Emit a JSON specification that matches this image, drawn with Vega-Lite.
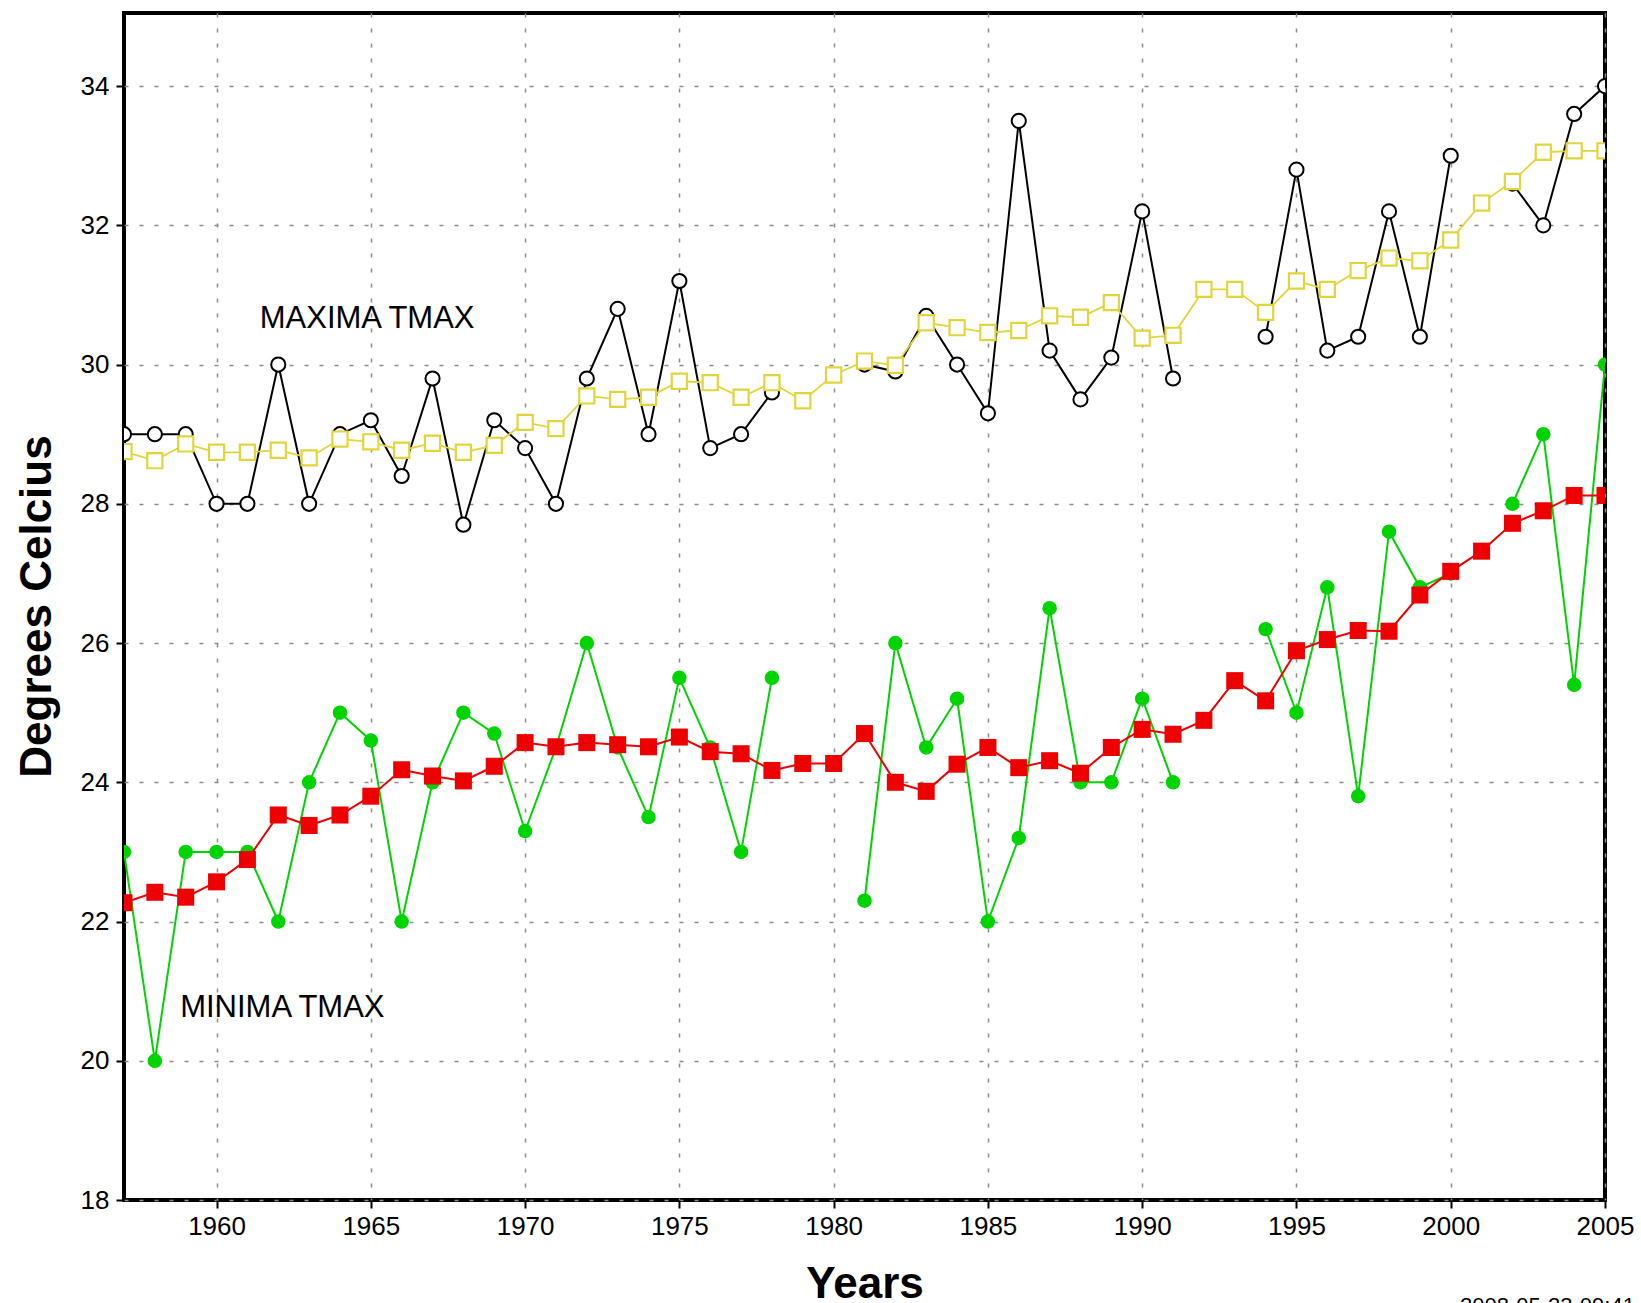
{
  "$schema": "https://vega.github.io/schema/vega-lite/v6.json",
  "width": 1481,
  "height": 1187,
  "autosize": {"type": "none"},
  "padding": {"left": 124, "top": 13, "right": 36, "bottom": 103},
  "background": "white",
  "config": {
    "view": {"stroke": "black", "strokeWidth": 4},
    "font": "Liberation Sans"
  },
  "title": {
    "text": "2008-05-23-09:41",
    "orient": "bottom",
    "anchor": "start",
    "frame": "group",
    "dx": 1336,
    "offset": -10,
    "fontSize": 22,
    "fontWeight": "normal",
    "font": "Liberation Sans",
    "color": "black"
  },
  "data": {
    "values": [
      {"year": 1957, "maxima": 29.0, "maxima_trend": 28.75, "minima": 23.0, "minima_trend": 22.27},
      {"year": 1958, "maxima": 29.0, "maxima_trend": 28.62, "minima": 20.0, "minima_trend": 22.42},
      {"year": 1959, "maxima": 29.0, "maxima_trend": 28.86, "minima": 23.0, "minima_trend": 22.35},
      {"year": 1960, "maxima": 28.0, "maxima_trend": 28.74, "minima": 23.0, "minima_trend": 22.57},
      {"year": 1961, "maxima": 28.0, "maxima_trend": 28.74, "minima": 23.0, "minima_trend": 22.89},
      {"year": 1962, "maxima": 30.0, "maxima_trend": 28.77, "minima": 22.0, "minima_trend": 23.53},
      {"year": 1963, "maxima": 28.0, "maxima_trend": 28.66, "minima": 24.0, "minima_trend": 23.38},
      {"year": 1964, "maxima": 29.0, "maxima_trend": 28.93, "minima": 25.0, "minima_trend": 23.53},
      {"year": 1965, "maxima": 29.2, "maxima_trend": 28.89, "minima": 24.6, "minima_trend": 23.80},
      {"year": 1966, "maxima": 28.4, "maxima_trend": 28.77, "minima": 22.0, "minima_trend": 24.18},
      {"year": 1967, "maxima": 29.8, "maxima_trend": 28.87, "minima": 24.0, "minima_trend": 24.09},
      {"year": 1968, "maxima": 27.7, "maxima_trend": 28.74, "minima": 25.0, "minima_trend": 24.02},
      {"year": 1969, "maxima": 29.2, "maxima_trend": 28.84, "minima": 24.7, "minima_trend": 24.23},
      {"year": 1970, "maxima": 28.8, "maxima_trend": 29.17, "minima": 23.3, "minima_trend": 24.57},
      {"year": 1971, "maxima": 28.0, "maxima_trend": 29.08, "minima": 24.5, "minima_trend": 24.51},
      {"year": 1972, "maxima": 29.8, "maxima_trend": 29.55, "minima": 26.0, "minima_trend": 24.57},
      {"year": 1973, "maxima": 30.8, "maxima_trend": 29.50, "minima": 24.5, "minima_trend": 24.54},
      {"year": 1974, "maxima": 29.0, "maxima_trend": 29.53, "minima": 23.5, "minima_trend": 24.51},
      {"year": 1975, "maxima": 31.2, "maxima_trend": 29.76, "minima": 25.5, "minima_trend": 24.65},
      {"year": 1976, "maxima": 28.8, "maxima_trend": 29.74, "minima": 24.5, "minima_trend": 24.44},
      {"year": 1977, "maxima": 29.0, "maxima_trend": 29.53, "minima": 23.0, "minima_trend": 24.41},
      {"year": 1978, "maxima": 29.6, "maxima_trend": 29.74, "minima": 25.5, "minima_trend": 24.17},
      {"year": 1979, "maxima": null, "maxima_trend": 29.48, "minima": null, "minima_trend": 24.27},
      {"year": 1980, "maxima": null, "maxima_trend": 29.85, "minima": null, "minima_trend": 24.27},
      {"year": 1981, "maxima": 30.0, "maxima_trend": 30.05, "minima": 22.3, "minima_trend": 24.70},
      {"year": 1982, "maxima": 29.9, "maxima_trend": 29.99, "minima": 26.0, "minima_trend": 24.00},
      {"year": 1983, "maxima": 30.7, "maxima_trend": 30.60, "minima": 24.5, "minima_trend": 23.87},
      {"year": 1984, "maxima": 30.0, "maxima_trend": 30.53, "minima": 25.2, "minima_trend": 24.26},
      {"year": 1985, "maxima": 29.3, "maxima_trend": 30.46, "minima": 22.0, "minima_trend": 24.50},
      {"year": 1986, "maxima": 33.5, "maxima_trend": 30.49, "minima": 23.2, "minima_trend": 24.21},
      {"year": 1987, "maxima": 30.2, "maxima_trend": 30.70, "minima": 26.5, "minima_trend": 24.31},
      {"year": 1988, "maxima": 29.5, "maxima_trend": 30.68, "minima": 24.0, "minima_trend": 24.13},
      {"year": 1989, "maxima": 30.1, "maxima_trend": 30.89, "minima": 24.0, "minima_trend": 24.50},
      {"year": 1990, "maxima": 32.2, "maxima_trend": 30.38, "minima": 25.2, "minima_trend": 24.76},
      {"year": 1991, "maxima": 29.8, "maxima_trend": 30.42, "minima": 24.0, "minima_trend": 24.69},
      {"year": 1992, "maxima": null, "maxima_trend": 31.08, "minima": null, "minima_trend": 24.89},
      {"year": 1993, "maxima": null, "maxima_trend": 31.08, "minima": null, "minima_trend": 25.46},
      {"year": 1994, "maxima": 30.4, "maxima_trend": 30.75, "minima": 26.2, "minima_trend": 25.17},
      {"year": 1995, "maxima": 32.8, "maxima_trend": 31.20, "minima": 25.0, "minima_trend": 25.89},
      {"year": 1996, "maxima": 30.2, "maxima_trend": 31.08, "minima": 26.8, "minima_trend": 26.05},
      {"year": 1997, "maxima": 30.4, "maxima_trend": 31.35, "minima": 23.8, "minima_trend": 26.18},
      {"year": 1998, "maxima": 32.2, "maxima_trend": 31.53, "minima": 27.6, "minima_trend": 26.17},
      {"year": 1999, "maxima": 30.4, "maxima_trend": 31.49, "minima": 26.8, "minima_trend": 26.69},
      {"year": 2000, "maxima": 33.0, "maxima_trend": 31.79, "minima": 27.0, "minima_trend": 27.03},
      {"year": 2001, "maxima": null, "maxima_trend": 32.32, "minima": null, "minima_trend": 27.32},
      {"year": 2002, "maxima": 32.6, "maxima_trend": 32.63, "minima": 28.0, "minima_trend": 27.72},
      {"year": 2003, "maxima": 32.0, "maxima_trend": 33.05, "minima": 29.0, "minima_trend": 27.90},
      {"year": 2004, "maxima": 33.6, "maxima_trend": 33.07, "minima": 25.4, "minima_trend": 28.12},
      {"year": 2005, "maxima": 34.0, "maxima_trend": 33.07, "minima": 30.0, "minima_trend": 28.12}
    ]
  },
  "transform": [
    {"fold": ["maxima", "maxima_trend", "minima", "minima_trend"], "as": ["series", "value"]}
  ],
  "encoding": {
    "x": {
      "field": "year",
      "type": "quantitative",
      "scale": {"domain": [1957, 2005], "nice": false, "zero": false},
      "axis": {
        "values": [1960, 1965, 1970, 1975, 1980, 1985, 1990, 1995, 2000, 2005],
        "format": "d",
        "title": "Years",
        "grid": true,
        "gridColor": "#8c8c8c",
        "gridDash": [4, 11],
        "gridWidth": 1.5,
        "domain": false,
        "tickSize": 8,
        "tickColor": "black",
        "tickWidth": 2,
        "labelFont": "Liberation Sans",
        "labelFontSize": 26,
        "labelColor": "black",
        "labelPadding": 5,
        "labelFlush": false,
        "labelOverlap": false,
        "titleFont": "Liberation Sans",
        "titleFontSize": 44,
        "titleFontWeight": "bold",
        "titleColor": "black",
        "titleBaseline": "alphabetic",
        "titleY": 97
      }
    },
    "y": {
      "field": "value",
      "type": "quantitative",
      "scale": {"domain": [18, 35.05], "nice": false, "zero": false},
      "axis": {
        "values": [18, 20, 22, 24, 26, 28, 30, 32, 34],
        "title": "Degrees Celcius",
        "grid": true,
        "gridColor": "#8c8c8c",
        "gridDash": [4, 11],
        "gridWidth": 1.5,
        "domain": false,
        "tickSize": 8,
        "tickColor": "black",
        "tickWidth": 2,
        "labelFont": "Liberation Sans",
        "labelFontSize": 26,
        "labelColor": "black",
        "labelPadding": 7,
        "labelFlush": false,
        "labelOverlap": false,
        "titleFont": "Liberation Sans",
        "titleFontSize": 44,
        "titleFontWeight": "bold",
        "titleColor": "black",
        "titleAngle": -90,
        "titleBaseline": "alphabetic",
        "titleX": -74,
        "titleY": 593
      }
    }
  },
  "layer": [
    {
      "transform": [{"filter": "datum.series === 'maxima'"}],
      "mark": {"type": "line", "color": "black", "strokeWidth": 2, "clip": true, "invalid": "break-paths-show-domains"}
    },
    {
      "transform": [{"filter": "datum.series === 'maxima'"}],
      "mark": {"type": "point", "shape": "circle", "filled": true, "fill": "white", "stroke": "black", "strokeWidth": 2, "size": 200, "opacity": 1, "clip": true}
    },
    {
      "transform": [{"filter": "datum.series === 'maxima_trend'"}],
      "mark": {"type": "line", "color": "#e2d53c", "strokeWidth": 1.8, "clip": true, "invalid": "break-paths-show-domains"}
    },
    {
      "transform": [{"filter": "datum.series === 'maxima_trend'"}],
      "mark": {"type": "point", "shape": "square", "filled": true, "fill": "white", "stroke": "#e2d53c", "strokeWidth": 2.2, "size": 230, "opacity": 1, "clip": true}
    },
    {
      "transform": [{"filter": "datum.series === 'minima'"}],
      "mark": {"type": "line", "color": "#00d400", "strokeWidth": 2, "clip": true, "invalid": "break-paths-show-domains"}
    },
    {
      "transform": [{"filter": "datum.series === 'minima'"}],
      "mark": {"type": "point", "shape": "circle", "filled": true, "color": "#00d400", "size": 210, "opacity": 1, "clip": true}
    },
    {
      "transform": [{"filter": "datum.series === 'minima_trend'"}],
      "mark": {"type": "line", "color": "#ee0000", "strokeWidth": 2, "clip": true, "invalid": "break-paths-show-domains"}
    },
    {
      "transform": [{"filter": "datum.series === 'minima_trend'"}],
      "mark": {"type": "point", "shape": "square", "filled": true, "color": "#ee0000", "size": 290, "opacity": 1, "clip": true}
    },
    {
      "transform": [{"filter": "datum.year === 1957 && datum.series === 'maxima'"}],
      "mark": {"type": "text", "text": "MAXIMA TMAX", "align": "left", "baseline": "alphabetic", "font": "Liberation Sans", "fontSize": 31, "color": "black"},
      "encoding": {
        "x": {"datum": 1961.4, "type": "quantitative"},
        "y": {"datum": 30.53, "type": "quantitative"}
      }
    },
    {
      "transform": [{"filter": "datum.year === 1957 && datum.series === 'minima'"}],
      "mark": {"type": "text", "text": "MINIMA TMAX", "align": "left", "baseline": "alphabetic", "font": "Liberation Sans", "fontSize": 31, "color": "black"},
      "encoding": {
        "x": {"datum": 1958.82, "type": "quantitative"},
        "y": {"datum": 20.63, "type": "quantitative"}
      }
    }
  ]
}
